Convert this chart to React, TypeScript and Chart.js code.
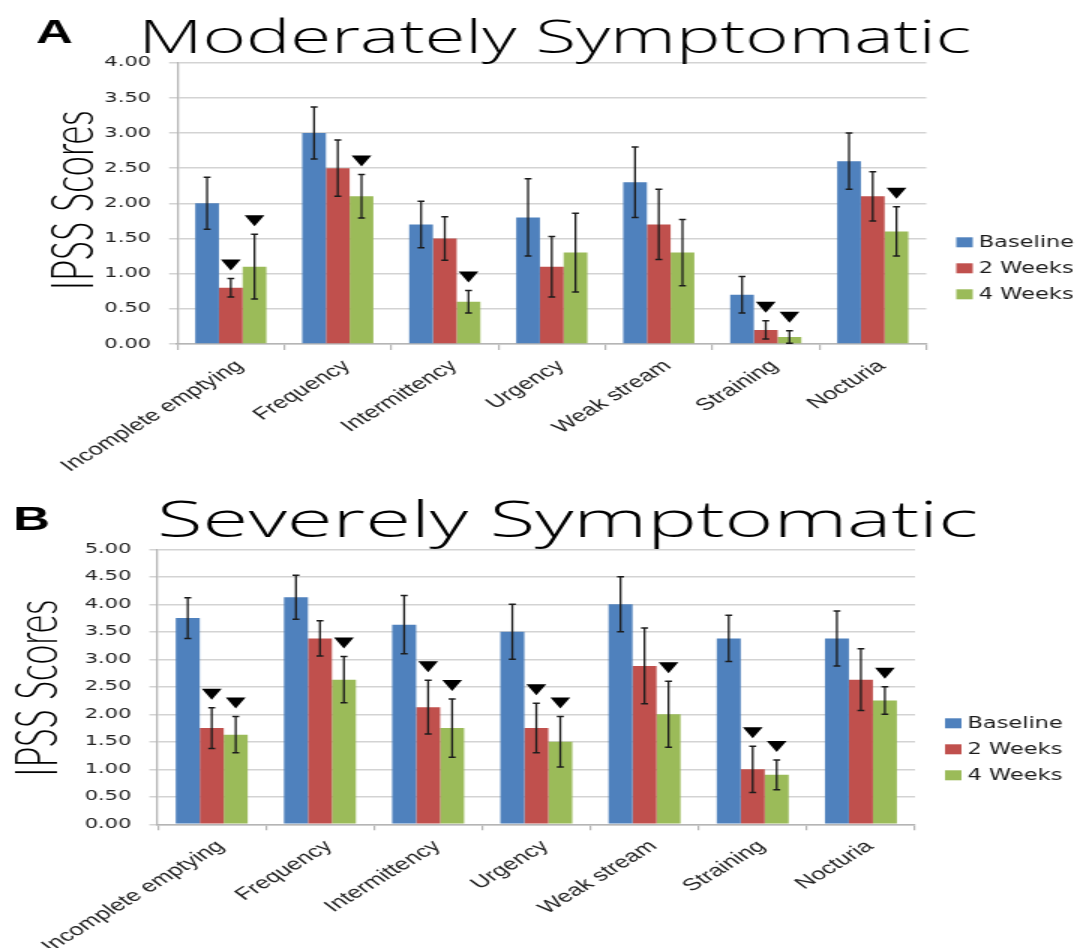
import React, { useEffect, useRef } from "react";
import { Chart, registerables } from "chart.js";

Chart.register(...registerables);

// ---------- data ----------
const categories = [
  "Incomplete emptying",
  "Frequency",
  "Intermittency",
  "Urgency",
  "Weak stream",
  "Straining",
  "Nocturia",
];
const seriesNames = ["Baseline", "2 Weeks", "4 Weeks"];
const seriesColors = ["#4F81BD", "#C0504D", "#9BBB59"];

// A: Moderately symptomatic
const modBaseline = [2.0, 3.0, 1.7, 1.8, 2.3, 0.7, 2.6];
const modBaselineErr = [0.37, 0.37, 0.33, 0.55, 0.5, 0.26, 0.4];
const mod2Weeks = [0.8, 2.5, 1.5, 1.1, 1.7, 0.2, 2.1];
const mod2WeeksErr = [0.13, 0.4, 0.31, 0.43, 0.5, 0.13, 0.35];
const mod4Weeks = [1.1, 2.1, 0.6, 1.3, 1.3, 0.1, 1.6];
const mod4WeeksErr = [0.46, 0.31, 0.16, 0.56, 0.47, 0.09, 0.35];
const modBaselineSig = [0, 0, 0, 0, 0, 0, 0];
const mod2WeeksSig = [1, 0, 0, 0, 0, 1, 0];
const mod4WeeksSig = [1, 1, 1, 0, 0, 1, 1];
const modYMax = 4;

// B: Severely symptomatic
const sevBaseline = [3.75, 4.13, 3.63, 3.5, 4.0, 3.38, 3.38];
const sevBaselineErr = [0.37, 0.4, 0.53, 0.5, 0.5, 0.42, 0.5];
const sev2Weeks = [1.75, 3.38, 2.13, 1.75, 2.88, 1.0, 2.63];
const sev2WeeksErr = [0.37, 0.32, 0.49, 0.45, 0.69, 0.42, 0.56];
const sev4Weeks = [1.63, 2.63, 1.75, 1.5, 2.0, 0.9, 2.25];
const sev4WeeksErr = [0.33, 0.42, 0.53, 0.46, 0.6, 0.27, 0.25];
const sevBaselineSig = [0, 0, 0, 0, 0, 0, 0];
const sev2WeeksSig = [1, 0, 1, 1, 0, 1, 0];
const sev4WeeksSig = [1, 1, 1, 1, 1, 1, 1];
const sevYMax = 5;

const yStep = 0.5;
const yTitle = "IPSS Scores";

// ---------- drawing helpers ----------
const STRETCH = 1.5;
const PAGE_W = 1077;
const CANVAS_W = Math.round(PAGE_W / STRETCH);

function drawFitted(
  ctx: CanvasRenderingContext2D,
  text: string,
  font: string,
  x: number,
  y: number,
  targetLen: number,
  angle: number
) {
  ctx.save();
  ctx.font = font;
  const w = ctx.measureText(text).width;
  ctx.translate(x, y);
  ctx.rotate(angle);
  ctx.scale(targetLen / w, 1);
  ctx.textAlign = "center";
  ctx.textBaseline = "alphabetic";
  ctx.fillText(text, 0, 0);
  ctx.restore();
}

const decorPlugin = {
  id: "decor",
  afterDatasetsDraw(chart: any, _args: any, opts: any) {
    const ctx: CanvasRenderingContext2D = chart.ctx;
    const y = chart.scales.y;
    ctx.save();
    chart.data.datasets.forEach((ds: any, i: number) => {
      const meta = chart.getDatasetMeta(i);
      const errs = opts.errors[i];
      const sig = opts.sig[i];
      meta.data.forEach((bar: any, j: number) => {
        const v = ds.data[j];
        const e = errs[j];
        const x = bar.x;
        const yHi = y.getPixelForValue(v + e);
        const yLo = y.getPixelForValue(Math.max(v - e, 0));
        ctx.strokeStyle = "#1c1c1c";
        ctx.lineWidth = 1.3;
        ctx.beginPath();
        ctx.moveTo(x, yHi);
        ctx.lineTo(x, yLo);
        ctx.stroke();
        ctx.lineWidth = 1.5;
        ctx.beginPath();
        ctx.moveTo(x - 2.3, yHi);
        ctx.lineTo(x + 2.3, yHi);
        ctx.moveTo(x - 2.3, yLo);
        ctx.lineTo(x + 2.3, yLo);
        ctx.stroke();
        if (sig[j]) {
          const tip = yHi - 8;
          ctx.fillStyle = "#000";
          ctx.beginPath();
          ctx.moveTo(x, tip);
          ctx.lineTo(x - 6.6, tip - 11);
          ctx.lineTo(x + 6.6, tip - 11);
          ctx.closePath();
          ctx.fill();
        }
      });
    });
    ctx.restore();
  },
  afterDraw(chart: any, _args: any, opts: any) {
    const ctx: CanvasRenderingContext2D = chart.ctx;
    const area = chart.chartArea;
    ctx.save();
    ctx.fillStyle = "#000";
    // panel letter
    ctx.font = "bold 34px 'Liberation Sans', Arial, sans-serif";
    ctx.textAlign = "left";
    ctx.textBaseline = "alphabetic";
    ctx.fillText(opts.panel, opts.panelX, opts.panelY);
    // title
    drawFitted(
      ctx,
      opts.title,
      `300 ${opts.titleSize}px 'Open Sans', 'Liberation Sans', sans-serif`,
      opts.titleX,
      opts.titleY,
      opts.titleWidth,
      0
    );
    // y-axis title
    drawFitted(
      ctx,
      yTitle,
      "300 40px Lato, 'Liberation Sans', Arial, sans-serif",
      opts.yTitleX,
      (area.top + area.bottom) / 2 + opts.yTitleDy,
      opts.yTitleLen,
      -Math.PI / 2
    );
    // legend
    const lx = area.right + 20;
    const cy0 = opts.legendY - 26;
    ctx.font = "15px 'DejaVu Sans', sans-serif";
    ctx.textBaseline = "middle";
    ctx.textAlign = "left";
    chart.data.datasets.forEach((ds: any, i: number) => {
      const cy = cy0 + i * 26;
      ctx.fillStyle = ds.backgroundColor;
      ctx.fillRect(lx, cy - 5, 11, 10);
      ctx.fillStyle = "#1a1a1a";
      ctx.fillText(ds.label, lx + 15, cy + 0.5);
    });
    ctx.restore();
  },
};

interface PanelCfg {
  height: number;
  values: number[][];
  errors: number[][];
  sig: number[][];
  yMax: number;
  left: number;
  right: number;
  top: number;
  bottom: number;
  panel: string;
  panelX: number;
  panelY: number;
  title: string;
  titleSize: number;
  titleX: number;
  titleY: number;
  titleWidth: number;
  yTitleX: number;
  yTitleDy: number;
  yTitleLen: number;
  legendY: number;
}

function BarPanel({ cfg }: { cfg: PanelCfg }) {
  const ref = useRef<HTMLCanvasElement>(null);
  useEffect(() => {
    const canvas = ref.current;
    if (!canvas) return;
    const chart = new Chart(canvas, {
      type: "bar",
      data: {
        labels: categories,
        datasets: seriesNames.map((name, i) => ({
          label: name,
          data: cfg.values[i],
          backgroundColor: seriesColors[i],
          borderWidth: 0,
          barPercentage: 1,
          categoryPercentage: 0.665,
        })),
      },
      options: {
        animation: false,
        responsive: false,
        devicePixelRatio: 1,
        layout: {
          padding: {
            top: cfg.top,
            left: 0,
            right: CANVAS_W - cfg.right,
            bottom: 0,
          },
        },
        plugins: {
          legend: { display: false },
          title: { display: false },
          tooltip: { enabled: false },
          decor: {
            errors: cfg.errors,
            sig: cfg.sig,
            panel: cfg.panel,
            panelX: cfg.panelX,
            panelY: cfg.panelY,
            title: cfg.title,
            titleSize: cfg.titleSize,
            titleX: cfg.titleX,
            titleY: cfg.titleY,
            titleWidth: cfg.titleWidth,
            yTitleX: cfg.yTitleX,
            yTitleDy: cfg.yTitleDy,
            yTitleLen: cfg.yTitleLen,
            legendY: cfg.legendY,
          },
        } as any,
        scales: {
          x: {
            grid: {
              display: true,
              drawOnChartArea: false,
              drawTicks: true,
              tickLength: 6,
              color: "#b5b5b5",
              lineWidth: 1.2,
              offset: true,
            },
            border: { color: "#b5b5b5", width: 1.5 },
            ticks: {
              autoSkip: false,
              maxRotation: 42,
              minRotation: 42,
              labelOffset: 6,
              padding: 6,
              color: "#222",
              font: { family: "'Liberation Sans', Arial, sans-serif", size: 17 },
            },
            afterFit: (s: any) => {
              s.height = cfg.height - cfg.bottom;
            },
          },
          y: {
            min: 0,
            max: cfg.yMax,
            ticks: {
              stepSize: yStep,
              padding: 12,
              color: "#222",
              font: { family: "'DejaVu Sans', sans-serif", size: 14 },
              callback: (v: any) => Number(v).toFixed(2),
            },
            grid: {
              color: "#d3d3d3",
              lineWidth: 1.5,
              tickLength: 5.5,
              drawTicks: true,
            },
            border: { color: "#b5b5b5", width: 1.3 },
            afterFit: (s: any) => {
              s.width = cfg.left;
            },
          },
        },
      },
      plugins: [decorPlugin],
    });
    return () => chart.destroy();
  }, [cfg]);
  return (
    <canvas
      ref={ref}
      width={CANVAS_W}
      height={cfg.height}
      style={{ width: PAGE_W, height: cfg.height, display: "block" }}
    />
  );
}

const moderateCfg: PanelCfg = {
  height: 482,
  values: [modBaseline, mod2Weeks, mod4Weeks],
  errors: [modBaselineErr, mod2WeeksErr, mod4WeeksErr],
  sig: [modBaselineSig, mod2WeeksSig, mod4WeeksSig],
  yMax: modYMax,
  left: 118.2,
  right: 617.5,
  top: 62.7,
  bottom: 344,
  panel: "A",
  panelX: 24,
  panelY: 43.3,
  title: "Moderately Symptomatic",
  titleSize: 46,
  titleX: 369.7,
  titleY: 53.3,
  titleWidth: 555,
  yTitleX: 62,
  yTitleDy: -3,
  yTitleLen: 180,
  legendY: 268.3,
};

const severeCfg: PanelCfg = {
  height: 466,
  values: [sevBaseline, sev2Weeks, sev4Weeks],
  errors: [sevBaselineErr, sev2WeeksErr, sev4WeeksErr],
  sig: [sevBaselineSig, sev2WeeksSig, sev4WeeksSig],
  yMax: sevYMax,
  left: 105.1,
  right: 610,
  top: 67.3,
  bottom: 342.3,
  panel: "B",
  panelX: 8.7,
  panelY: 48,
  title: "Severely Symptomatic",
  titleSize: 49,
  titleX: 378.3,
  titleY: 54.7,
  titleWidth: 547,
  yTitleX: 37.9,
  yTitleDy: 1.5,
  yTitleLen: 177,
  legendY: 267.3,
};

export default function App() {
  return (
    <div
      style={{
        position: "absolute",
        left: 0,
        top: 0,
        width: PAGE_W,
        height: 948,
        background: "#fff",
        overflow: "hidden",
      }}
    >
      <BarPanel cfg={moderateCfg} />
      <BarPanel cfg={severeCfg} />
    </div>
  );
}
